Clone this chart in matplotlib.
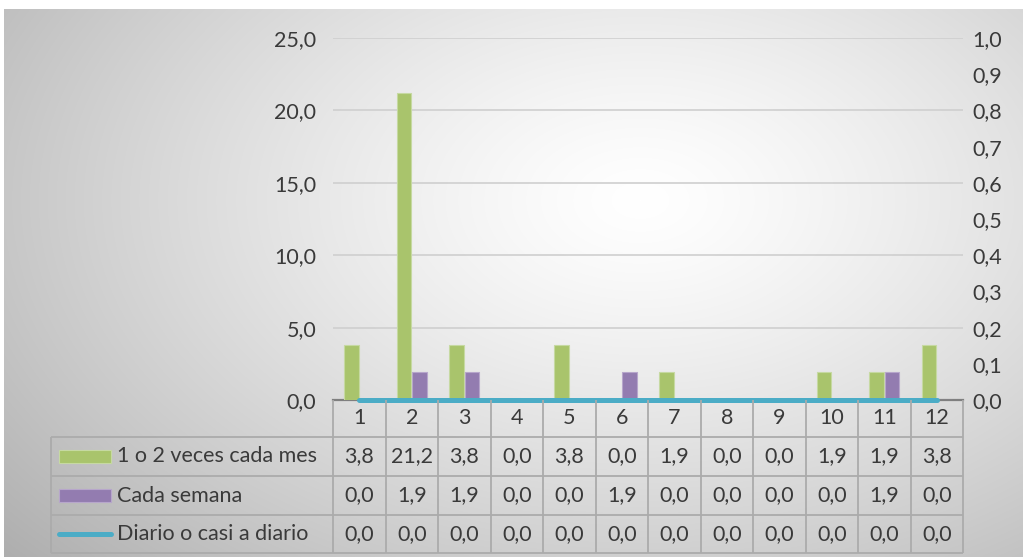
import numpy as np
import matplotlib.pyplot as plt
from matplotlib.transforms import blended_transform_factory

# Data
categories = [str(i) for i in range(1, 13)]
mensual = [3.8, 21.2, 3.8, 0.0, 3.8, 0.0, 1.9, 0.0, 0.0, 1.9, 1.9, 3.8]
semanal = [0.0, 1.9, 1.9, 0.0, 0.0, 1.9, 0.0, 0.0, 0.0, 0.0, 1.9, 0.0]
diario = [0.0, 0.0, 0.0, 0.0, 0.0, 0.0, 0.0, 0.0, 0.0, 0.0, 0.0, 0.0]
series_names = ["1 o 2 veces cada mes", "Cada semana", "Diario o casi a diario"]
left_ticks = [0, 5, 10, 15, 20, 25]
right_ticks = [i / 10 for i in range(11)]

GREEN, GREEN_EDGE = "#a9c46c", "#c6d9a2"
PURPLE, PURPLE_EDGE = "#937cb0", "#b7a6cb"
CYAN = "#4bacc6"
TEXT = "#3a3a3a"
FONT = "Lato"
FS = 15.5

plt.rcParams["font.family"] = [FONT, "DejaVu Sans"]

W, H = 1023, 557
fig = plt.figure(figsize=(W / 100, H / 100), dpi=100)
fig.patch.set_facecolor("white")

# Radial background fill of the chart area
x0, y0 = 4, 9
bg = fig.add_axes([x0 / W, 0, 1 - x0 / W, (H - y0) / H])
yy, xx = np.mgrid[0:H - y0, 0:W - x0]
cx, cy = 640 - x0, 200 - y0
r = np.sqrt(((xx - cx) / 660.0) ** 2 + ((yy - cy) / 420.0) ** 2)
val = 1.0 - 0.23 * np.clip(r, 0, 1.5) ** 1.3
val = np.clip(val, 0, 1)
bg.imshow(np.dstack([val, val, val]), aspect="auto", interpolation="bilinear")
bg.set_axis_off()

# Plot area
L, R, T, B = 333, 963, 38, 400
ax = fig.add_axes([L / W, 1 - B / H, (R - L) / W, (B - T) / H])
ax.patch.set_alpha(0)
x = np.arange(len(categories))
bw = 0.275
ax.bar(x - 0.1475, mensual, width=bw, color=GREEN, edgecolor=GREEN_EDGE,
       linewidth=0.8, zorder=3)
ax.bar(x + 0.1475, semanal, width=bw, color=PURPLE, edgecolor=PURPLE_EDGE,
       linewidth=0.8, zorder=3)
ax.set_xlim(-0.5, len(categories) - 0.5)
ax.set_ylim(0, 25)
ax.set_yticks(left_ticks)
ax.set_yticklabels([f"{v:.1f}".replace(".", ",") for v in left_ticks])
ax.set_xticks([])
ax.tick_params(axis="y", length=0, pad=12, labelsize=FS, labelcolor=TEXT)
ax.yaxis.grid(True, color="#cfcfcf", linewidth=1.2, zorder=0)
ax.set_axisbelow(True)
for s in ["top", "left", "right"]:
    ax.spines[s].set_visible(False)
ax.spines["bottom"].set_color("#7f7f7f")
ax.spines["bottom"].set_linewidth(1.6)

ax2 = ax.twinx()
ax2.plot(x, diario, color=CYAN, linewidth=3.6, solid_capstyle="round",
         zorder=4, clip_on=False)
ax2.set_ylim(0, 1.0)
ax2.set_yticks(right_ticks)
ax2.set_yticklabels([f"{v:.1f}".replace(".", ",") for v in right_ticks])
ax2.tick_params(axis="y", length=0, pad=7, labelsize=FS, labelcolor=TEXT)
for s in ["top", "left", "right", "bottom"]:
    ax2.spines[s].set_visible(False)

# Data table below the plot
ov = fig.add_axes([0, 0, 1, 1])
ov.set_xlim(0, W)
ov.set_ylim(H, 0)
ov.set_axis_off()
ov.patch.set_alpha(0)
tr = blended_transform_factory(ax.transData, ov.transData)

rows_y = [400, 437, 476, 515, 553]
label_x = 51
grid_c = "#ababab"
grid_lw = 1.3

# horizontal rules
for yv in rows_y[1:]:
    ov.plot([label_x, R], [yv, yv], color=grid_c, linewidth=grid_lw,
            solid_capstyle="butt")
# vertical rules between categories
for b in np.arange(len(categories) + 1) - 0.5:
    ov.plot([b, b], [rows_y[0], rows_y[-1]], color=grid_c, linewidth=grid_lw,
            transform=tr, solid_capstyle="butt")
ov.plot([label_x, label_x], [rows_y[1], rows_y[-1]], color=grid_c,
        linewidth=grid_lw, solid_capstyle="butt")

# header row: category names
hy = (rows_y[0] + rows_y[1]) / 2
for xi, c in zip(x, categories):
    ov.text(xi, hy, c, transform=tr, ha="center", va="center",
            fontsize=FS, color=TEXT)

# value rows
for ri, series in enumerate([mensual, semanal, diario]):
    cy_row = (rows_y[ri + 1] + rows_y[ri + 2]) / 2
    for xi, v in zip(x, series):
        ov.text(xi, cy_row, f"{v:.1f}".replace(".", ","), transform=tr,
                ha="center", va="center", fontsize=FS, color=TEXT)

# row labels with legend keys
key_x0, key_x1 = 59, 111
for ri, name in enumerate(series_names):
    cy_row = (rows_y[ri + 1] + rows_y[ri + 2]) / 2
    if ri == 0:
        ov.add_patch(plt.Rectangle((key_x0, cy_row - 6.5), key_x1 - key_x0, 13,
                                   facecolor=GREEN, edgecolor=GREEN_EDGE,
                                   linewidth=0.8))
    elif ri == 1:
        ov.add_patch(plt.Rectangle((key_x0, cy_row - 6.5), key_x1 - key_x0, 13,
                                   facecolor=PURPLE, edgecolor=PURPLE_EDGE,
                                   linewidth=0.8))
    else:
        ov.plot([key_x0, key_x1], [cy_row, cy_row], color=CYAN, linewidth=3.6,
                solid_capstyle="round")
    ov.text(117, cy_row, name, ha="left", va="center", fontsize=FS, color=TEXT)

fig.savefig("out.png", dpi=100)
